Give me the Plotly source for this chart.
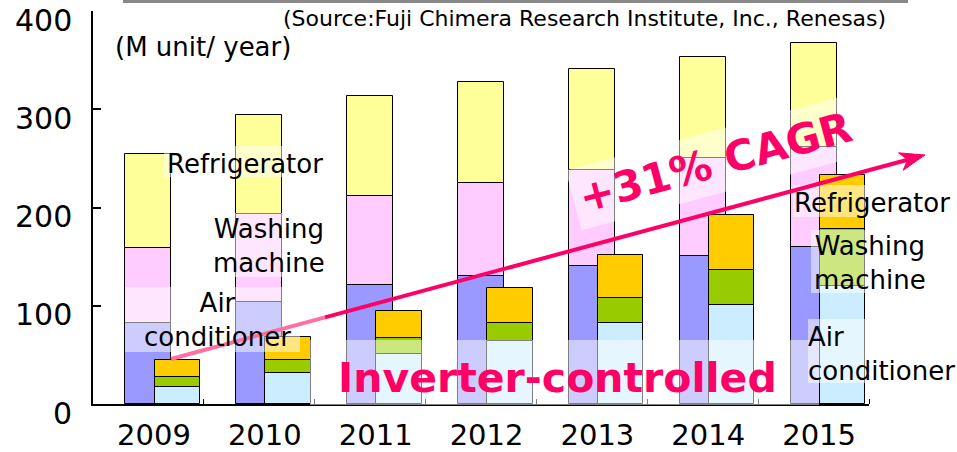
import math
import plotly.graph_objects as go

# ---------------- data ----------------
years = ['2009', '2010', '2011', '2012', '2013', '2014', '2015']
# total market (M units / year)
total_ac = [82, 104, 121, 130, 140, 151, 160]
total_wm = [77, 89, 91, 95, 98, 99, 102]
total_ref = [95, 101, 102, 103, 103, 103, 105]
# inverter-controlled
inv_ac = [17, 32, 51, 64, 82, 101, 120]
inv_wm = [10, 13, 16, 18, 26, 35, 58]
inv_ref = [18, 23, 28, 36, 44, 56, 55]
y_ticks = [0, 100, 200, 300, 400]

# ---------------- layout geometry ----------------
W, H = 957, 452
ML, MR, MT, MB = 93, 88, 11, 48
PW, PH = W - ML - MR, H - MT - MB
FONT = 'DejaVu Sans'
PINK = '#ff0066'


def px(xp, yp):
    """pixel -> paper coordinates"""
    return (xp - ML) / PW, (H - MB - yp) / PH


n = len(years)
xc = list(range(n))
x_inv = [i + 0.26 for i in xc]

fig = go.Figure()


def add_stack(xs, series, colors, width):
    base = [0] * n
    for vals, col in zip(series, colors):
        fig.add_trace(go.Bar(
            x=xs, y=vals, base=list(base), width=width,
            marker=dict(color=col, line=dict(color='black', width=1)),
            showlegend=False, hoverinfo='skip'))
        base = [b + v for b, v in zip(base, vals)]


add_stack(xc, [total_ac, total_wm, total_ref], ['#9999ff', '#ffccff', '#ffff99'], 0.415)
add_stack(x_inv, [inv_ac, inv_wm, inv_ref], ['#ccecff', '#99cc00', '#ffcc00'], 0.41)

shapes = []


def rect_px(x0, y0, x1, y1, fill='rgba(255,255,255,0.5)'):
    a, b = px(x0, y0)
    c, d = px(x1, y1)
    shapes.append(dict(type='rect', xref='paper', yref='paper', x0=a, y0=b, x1=c, y1=d,
                       fillcolor=fill, line=dict(width=0), layer='above'))


# translucent label boxes
rect_px(164, 146, 325, 177)      # Refrigerator (left)
rect_px(205, 213, 330, 277)      # Washing machine (left)
rect_px(125, 287, 300, 352)      # Air conditioner (left)
rect_px(793, 185, 957, 217)      # Refrigerator (right)
rect_px(811, 230, 957, 293)      # Washing machine (right)
rect_px(808, 319, 957, 383)      # Air conditioner (right)
rect_px(310, 340, 819, 405)      # Inverter-controlled band
# grey bar at top
rect_px(123, -2, 908, 3, fill='#888888')

# arrow (CAGR trend)
sx, sy = 171, 359
tx, ty = 925, 155
dx, dy = tx - sx, ty - sy
L = math.hypot(dx, dy)
ux, uy = dx / L, dy / L
nx, ny = -uy, ux
mid_x = 325
mid_y = sy + (mid_x - sx) * dy / dx
a0 = px(sx, sy); a1 = px(mid_x, mid_y)
shapes.append(dict(type='line', xref='paper', yref='paper', x0=a0[0], y0=a0[1], x1=a1[0], y1=a1[1],
                   line=dict(color='#ff6fa3', width=4), layer='above'))
ex, ey = tx - 18 * ux, ty - 18 * uy
a2 = px(ex, ey)
shapes.append(dict(type='line', xref='paper', yref='paper', x0=a1[0], y0=a1[1], x1=a2[0], y1=a2[1],
                   line=dict(color=PINK, width=4), layer='above'))
pts = [(tx, ty),
       (tx - 25 * ux + 9 * nx, ty - 25 * uy + 9 * ny),
       (tx - 18 * ux, ty - 18 * uy),
       (tx - 25 * ux - 9 * nx, ty - 25 * uy - 9 * ny)]
pp = [px(*p) for p in pts]
path = 'M ' + ' L '.join(f'{p[0]:.5f},{p[1]:.5f}' for p in pp) + ' Z'
shapes.append(dict(type='path', xref='paper', yref='paper', path=path,
                   fillcolor=PINK, line=dict(color=PINK, width=1), layer='above'))

annotations = []


def text_px(x, y, text, size, color='black', align='center', xanchor='center', bold=False,
            angle=0, bg=None, pad=0, family=FONT):
    a, b = px(x, y)
    annotations.append(dict(xref='paper', yref='paper', x=a, y=b, text=text, showarrow=False,
                            xanchor=xanchor, yanchor='middle', align=align, textangle=angle,
                            bgcolor=bg, borderpad=pad,
                            font=dict(family=family, size=size, color=color,
                                      weight='bold' if bold else 'normal')))


# y tick labels (sit slightly below their ticks, as in the original)
for v in y_ticks:
    annotations.append(dict(xref='paper', yref='y', x=px(74, 0)[0], y=v, yshift=-9,
                            text=str(v), showarrow=False, xanchor='right', yanchor='middle',
                            font=dict(family=FONT, size=30, color='black')))

text_px(584, 19, '(Source:Fuji Chimera Research Institute, Inc., Renesas)', 22)
text_px(203, 47, '(M unit/ year)', 26)
text_px(245, 164, 'Refrigerator', 26)
text_px(269, 246, 'Washing<br>machine', 26)
text_px(217, 320, 'Air<br>conditioner', 26)
text_px(872, 203, 'Refrigerator', 26)
text_px(870, 263, 'Washing<br>machine', 26)
text_px(807, 354, 'Air<br>conditioner', 26, align='left', xanchor='left')
text_px(557, 378, 'Inverter-controlled', 41, color=PINK, bold=True)
text_px(715, 162, '+31% CAGR', 42, color=PINK, bold=True, angle=-15,
        bg='rgba(255,255,255,0.5)', pad=6)

fig.update_layout(
    width=W, height=H,
    margin=dict(l=ML, r=MR, t=MT, b=MB, pad=0, autoexpand=False),
    paper_bgcolor='white', plot_bgcolor='white',
    barmode='overlay', bargap=0,
    shapes=shapes, annotations=annotations,
    font=dict(family=FONT, color='black'),
    xaxis=dict(range=[-0.5, n - 0.5], showgrid=False, zeroline=False, automargin=False,
               showline=True, linecolor='black', linewidth=2,
               tickmode='array', tickvals=[i + 0.05 for i in xc], ticktext=years,
               ticks='', tickfont=dict(family=FONT, size=29, color='black'),
               ticklabelstandoff=4, ticklabeloverflow='allow',
               minor=dict(tickmode='array', tickvals=[i + 0.5 for i in xc],
                          ticks='inside', ticklen=5, tickwidth=1, tickcolor='black')),
    yaxis=dict(range=[0, 400], showgrid=False, zeroline=False, automargin=False,
               showline=True, linecolor='black', linewidth=2,
               tickmode='array', tickvals=y_ticks, showticklabels=False,
               ticks='inside', ticklen=8, tickwidth=2, tickcolor='black'),
)

fig.write_html('out.html', config={'displayModeBar': False},
               post_script="document.body.style.margin='0';document.body.style.overflow='hidden';")
